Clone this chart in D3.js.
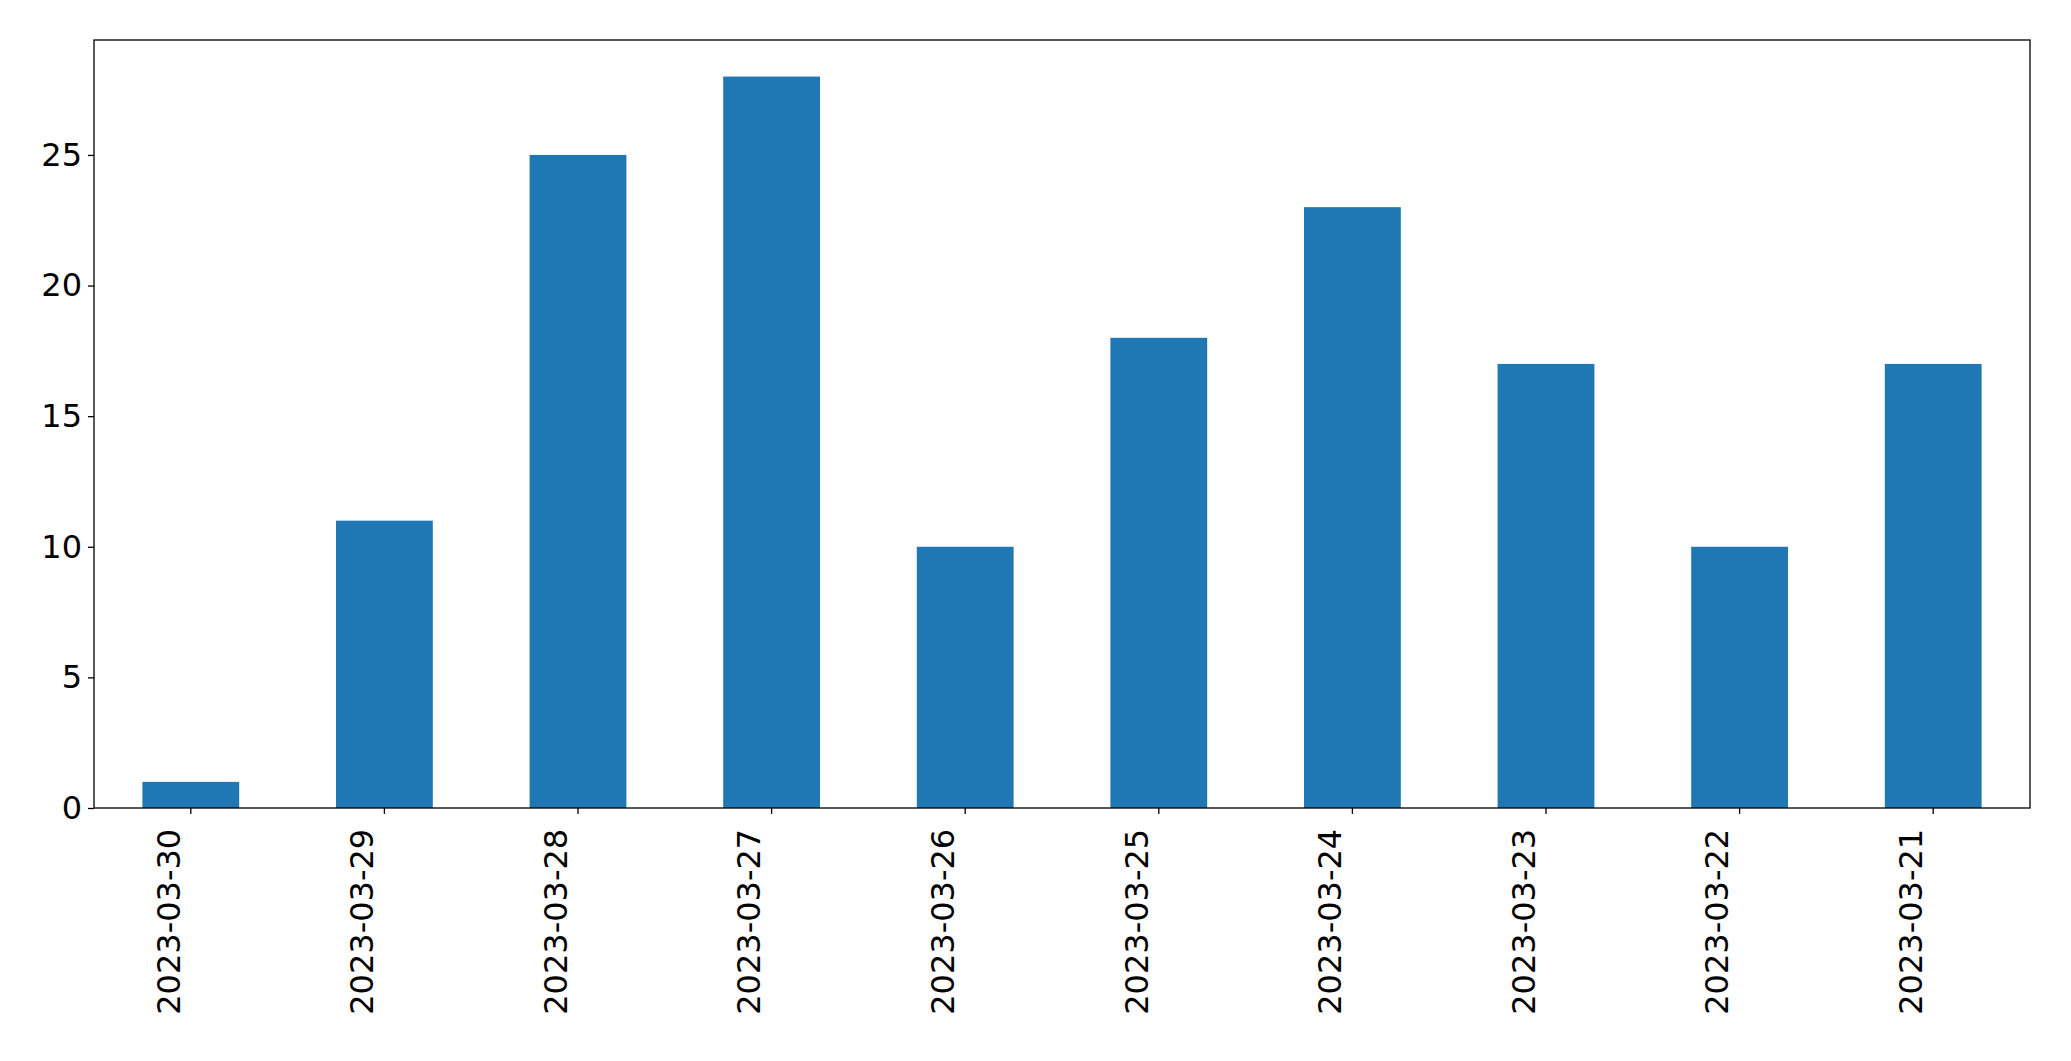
<!DOCTYPE html>
<html><head><meta charset="utf-8">
<script src="https://d3js.org/d3.v7.min.js"></script>
<style>body{margin:0;background:#fff}svg{display:block}text{font-family:"DejaVu Sans",sans-serif}</style>
</head><body><svg id="c" width="2071" height="1061"></svg>
<script>
const categories=["2023-03-30","2023-03-29","2023-03-28","2023-03-27","2023-03-26","2023-03-25","2023-03-24","2023-03-23","2023-03-22","2023-03-21"];
const values=[1,11,25,28,10,18,23,17,10,17];
const yTicks=[0,5,10,15,20,25];
const m={l:94,r:2030,t:40,b:808};
const svg=d3.select("#c");
const x=d3.scaleBand().domain(categories).range([m.l,m.r]).paddingInner(0.5).paddingOuter(0.25);
const y=d3.scaleLinear().domain([0,29.4]).range([m.b,m.t]);
svg.selectAll("rect.bar").data(values).join("rect").attr("class","bar")
 .attr("x",(d,i)=>x(categories[i])).attr("width",x.bandwidth())
 .attr("y",d=>y(d)).attr("height",d=>y(0)-y(d)).attr("fill","#1f77b4");
const ya=svg.append("g").attr("transform",`translate(${m.l},0)`).call(d3.axisLeft(y).tickValues(yTicks).tickSize(6).tickPadding(6));
const xa=svg.append("g").attr("transform",`translate(0,${m.b})`).call(d3.axisBottom(x).tickSize(6).tickPadding(6));
[ya,xa].forEach(a=>{a.select(".domain").remove();a.selectAll("text").attr("font-size",32).attr("fill","#000");a.selectAll("line").attr("stroke","#000").attr("stroke-width",1.3);});
xa.selectAll("text").attr("transform","rotate(-90)").attr("text-anchor","end").attr("dx","-0.4em").attr("dy","-0.35em").attr("y",0).attr("x",-8);
svg.append("rect").attr("x",m.l).attr("y",m.t).attr("width",m.r-m.l).attr("height",m.b-m.t).attr("fill","none").attr("stroke","#000").attr("stroke-width",1.3);
</script></body></html>
